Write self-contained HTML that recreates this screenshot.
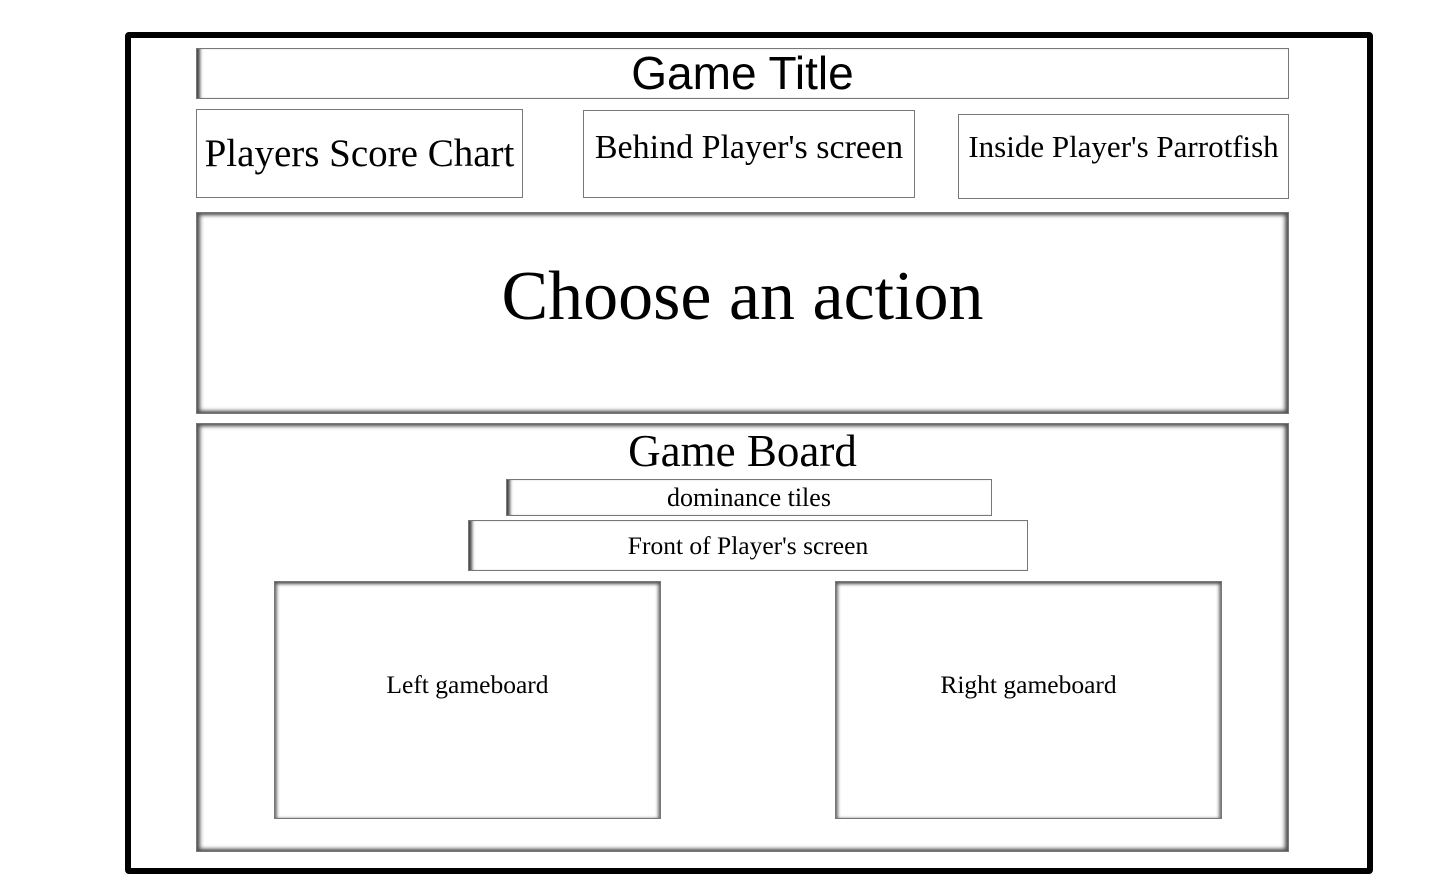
<!DOCTYPE html>
<html><head><style>
body{margin:0;width:1455px;height:894px;background:#fff;position:relative;overflow:hidden;font-family:"Liberation Serif",serif;}
.b{position:absolute;box-sizing:border-box;border:1px solid #777;display:flex;align-items:center;justify-content:center;color:#000;white-space:nowrap;}
.s{box-shadow:inset 4px 0 4px -1px #555,inset -4px 0 4px -1px #555,inset 0 3px 4px -1px #555,inset 0 -3px 4px -1px #555;}
.l{box-shadow:inset 5px 0 3px -2px #444;}
</style></head><body>
<div style="position:absolute;left:125px;top:32px;width:1248px;height:842px;box-sizing:border-box;border:6px solid #000;border-radius:4px;"></div>
<div class="b l" style="left:196px;top:48px;width:1093px;height:51px;font-family:'Liberation Sans',sans-serif;font-size:46px;padding-bottom:2px;">Game Title</div>
<div class="b" style="left:196px;top:109px;width:327px;height:89px;font-size:39px;">Players Score Chart</div>
<div class="b" style="left:583px;top:110px;width:332px;height:88px;font-size:34px;align-items:flex-start;padding-top:18px;">Behind Player's screen</div>
<div class="b" style="left:958px;top:114px;width:331px;height:85px;font-size:31px;align-items:flex-start;padding-top:14px;">Inside Player's Parrotfish</div>
<div class="b s" style="left:196px;top:212px;width:1093px;height:202px;font-size:70px;align-items:flex-start;padding-top:44px;">Choose an action</div>
<div class="b s" style="left:196px;top:423px;width:1093px;height:429px;font-size:45px;align-items:flex-start;padding-top:1px;">Game Board</div>
<div class="b l" style="left:506px;top:479px;width:486px;height:37px;font-size:26px;">dominance tiles</div>
<div class="b l" style="left:468px;top:520px;width:560px;height:51px;font-size:25.5px;">Front of Player's screen</div>
<div class="b s" style="left:274px;top:581px;width:387px;height:238px;font-size:25.5px;align-items:flex-start;padding-top:88px;box-shadow:inset 0 3px 3px -1px #555,inset 3px 0 3px -1px #777,inset -3px 0 3px -1px #777;">Left gameboard</div>
<div class="b s" style="left:835px;top:581px;width:387px;height:238px;font-size:25.5px;align-items:flex-start;padding-top:88px;box-shadow:inset 0 3px 3px -1px #555,inset 3px 0 3px -1px #777,inset -3px 0 3px -1px #777;">Right gameboard</div>
</body></html>
